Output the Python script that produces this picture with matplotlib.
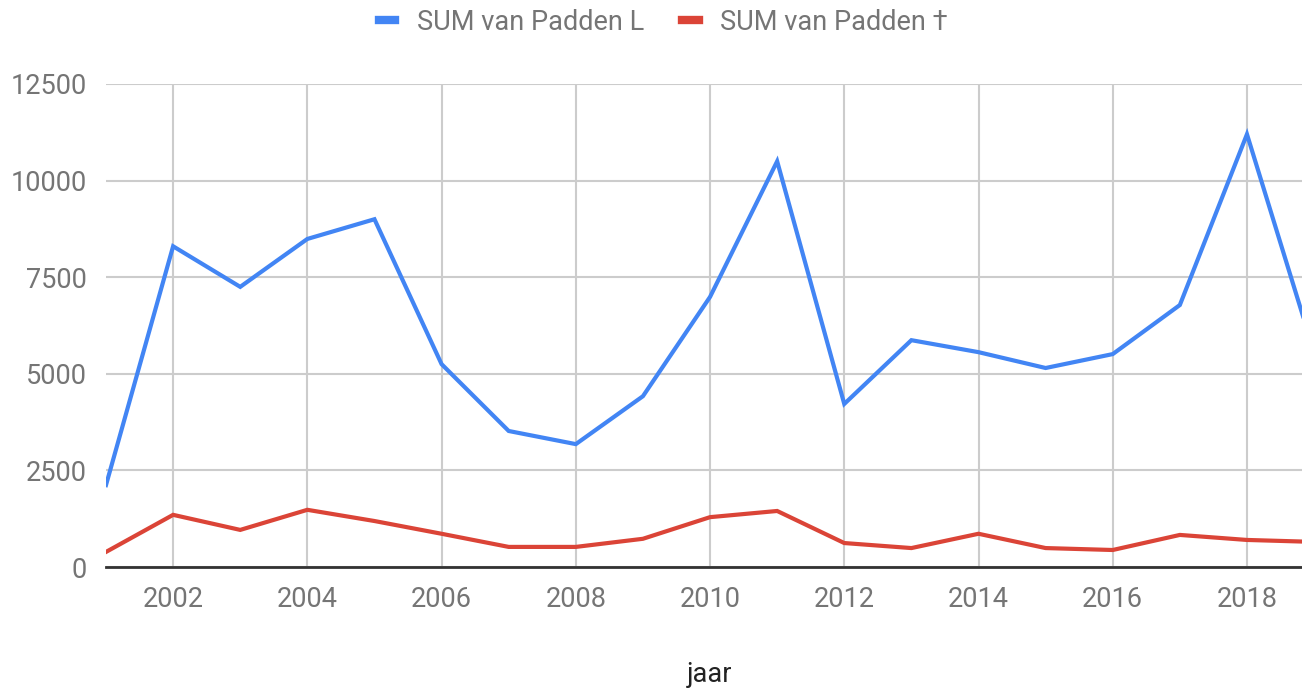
import matplotlib.pyplot as plt
from matplotlib.lines import Line2D

plt.rcParams['font.family'] = ['Roboto', 'DejaVu Sans']

# data
years = list(range(2001, 2020))
padden_l = [2120, 8300, 7250, 8490, 9000, 5250, 3520, 3180, 4420, 6990,
            10500, 4220, 5870, 5560, 5150, 5510, 6780, 11200, 5560]
padden_dood = [390, 1350, 960, 1480, 1190, 860, 520, 520, 730, 1290,
               1450, 620, 490, 860, 490, 440, 830, 700, 650]
labels = ['SUM van Padden L', 'SUM van Padden \u2020']
x_ticks = list(range(2002, 2019, 2))
y_ticks = [0, 2500, 5000, 7500, 10000, 12500]

blue = '#4285F4'
red = '#DB4437'
grid_col = '#CCCCCC'
text_col = '#757575'
fs = 19.5

fig = plt.figure(figsize=(13.02, 6.89), dpi=100)
ax = fig.add_axes([106 / 1302, 1 - 567 / 689, 1 - 106 / 1302, (567 - 84) / 689])

ax.plot(years, padden_l, color=blue, linewidth=3, solid_joinstyle='miter', zorder=3)
ax.plot(years, padden_dood, color=red, linewidth=3, solid_joinstyle='miter', zorder=3)

ax.set_xlim(2001, 2018.82)
ax.set_ylim(0, 12500)
ax.set_xticks(x_ticks)
ax.set_yticks(y_ticks)
ax.grid(True, color=grid_col, linewidth=1.5, zorder=0)
ax.axhline(0, color='#333333', linewidth=2, zorder=2, clip_on=False)
ax.tick_params(axis='x', length=0, labelsize=fs, labelcolor=text_col, pad=14)
ax.tick_params(axis='y', length=0, labelsize=fs, labelcolor=text_col, pad=14)
for s in ax.spines.values():
    s.set_visible(False)

# axis title placed in figure coords
fig.text(0.545, 1 - 675 / 689, 'jaar', fontsize=fs, color='#222222',
         ha='center', va='center')

handles = [Line2D([], [], color=blue, linewidth=6),
           Line2D([], [], color=red, linewidth=6)]
fig.legend(handles, labels, loc='center', bbox_to_anchor=(0.5096, 1 - 22 / 689),
           ncol=2, frameon=False, fontsize=fs, handlelength=0.6,
           columnspacing=1.4, labelcolor=text_col, handletextpad=0.8)

fig.savefig('out.png', dpi=100)
